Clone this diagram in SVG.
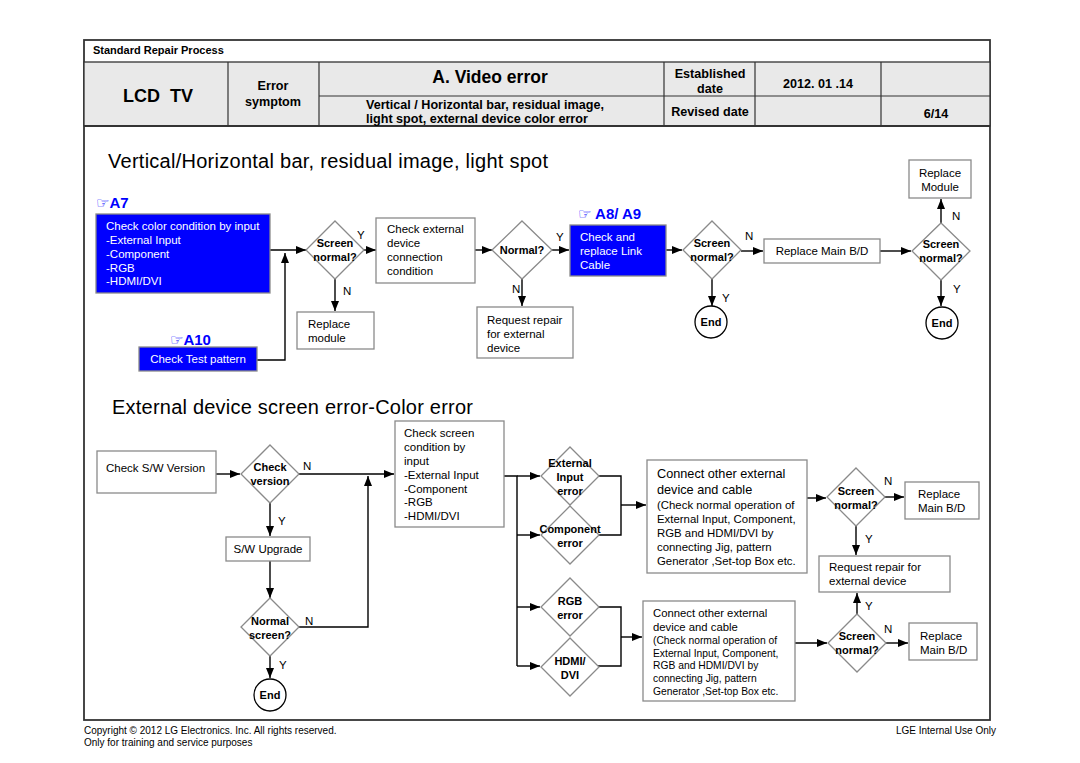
<svg xmlns="http://www.w3.org/2000/svg" width="1080" height="763" viewBox="0 0 1080 763">
<defs>
<marker id="ah" markerUnits="userSpaceOnUse" markerWidth="10" markerHeight="8" refX="10" refY="4" orient="auto">
<path d="M0,0 L10,4 L0,8 z" fill="#000"/>
</marker>
<style>
text{font-family:"Liberation Sans","DejaVu Sans",Arial,sans-serif;fill:#000}
.hd{font-weight:bold;font-size:12.6px}
.box{fill:#fff;stroke:#8a8a8a;stroke-width:1.3}
.blue{fill:#0000ff;stroke:#8a8a8a;stroke-width:1.3}
.dia{fill:#fff;stroke:#8a8a8a;stroke-width:1.3}
.end{fill:#fff;stroke:#000;stroke-width:1.3}
.t{font-size:11.5px}
.tw{font-size:11.5px;fill:#fff}
.tb{font-size:11px;font-weight:bold}
.lbl{font-size:11.5px}
.ref{font-size:15px;font-weight:bold;fill:#0000ff}
.con path{fill:none;stroke:#000;stroke-width:1.4}
.arr{marker-end:url(#ah)}
</style>
</defs>
<rect width="1080" height="763" fill="#fff"/>

<g id="header">
<rect x="84" y="40" width="906" height="680" fill="#fff" stroke="#333" stroke-width="1.8"/>
<rect x="84" y="62" width="906" height="64" fill="#e9e9e9" stroke="#333" stroke-width="1.3"/>
<line x1="84" y1="126" x2="990" y2="126" stroke="#333" stroke-width="2.2"/>
<line x1="228" y1="62" x2="228" y2="126" stroke="#333" stroke-width="1.2"/>
<line x1="319" y1="62" x2="319" y2="126" stroke="#333" stroke-width="1.2"/>
<line x1="664" y1="62" x2="664" y2="126" stroke="#333" stroke-width="1.2"/>
<line x1="755" y1="62" x2="755" y2="126" stroke="#333" stroke-width="1.2"/>
<line x1="881" y1="62" x2="881" y2="126" stroke="#333" stroke-width="1.2"/>
<line x1="319" y1="96" x2="990" y2="96" stroke="#333" stroke-width="1.2"/>
<text x="93" y="54" style="font-size:11px;font-weight:bold">Standard Repair Process</text>
<text x="158" y="102" text-anchor="middle" style="font-size:18px;font-weight:bold" xml:space="preserve">LCD  TV</text>
<text x="273" y="90" text-anchor="middle" class="hd">Error</text>
<text x="273" y="106" text-anchor="middle" class="hd">symptom</text>
<text x="490" y="83" text-anchor="middle" style="font-size:17.5px;font-weight:bold">A. Video error</text>
<text x="366" y="109" class="hd">Vertical / Horizontal bar, residual image,</text>
<text x="366" y="123" class="hd">light spot, external device color error</text>
<text x="710" y="78" text-anchor="middle" class="hd">Established</text>
<text x="710" y="93" text-anchor="middle" class="hd">date</text>
<text x="818" y="88" text-anchor="middle" class="hd">2012. 01 .14</text>
<text x="710" y="116" text-anchor="middle" class="hd">Revised date</text>
<text x="936" y="118" text-anchor="middle" class="hd">6/14</text>
</g>

<g id="titles">
<text x="108" y="168" style="font-size:20px" textLength="440">Vertical/Horizontal bar, residual image, light spot</text>
<text x="112" y="414" style="font-size:20px" textLength="361">External device screen error-Color error</text>
<text x="96" y="208" class="ref">☞A7</text>
<text x="170" y="345" class="ref">☞A10</text>
<text x="578" y="219" class="ref">☞ A8/ A9</text>
</g>

<g class="con" id="connectors">
<path class="arr" d="M270,250 H306"/>
<path class="arr" d="M257,360 H285 V253"/>
<path class="arr" d="M364,250 H376"/>
<path class="arr" d="M335,279 V311"/>
<path class="arr" d="M475,250 H492"/>
<path class="arr" d="M552,250 H569"/>
<path class="arr" d="M522,278 V306"/>
<path class="arr" d="M666,250 H682"/>
<path class="arr" d="M741,251 H763"/>
<path class="arr" d="M880,251 H911"/>
<path class="arr" d="M941,223 V199"/>
<path class="arr" d="M941,280 V306"/>
<path class="arr" d="M712,279 V306"/>
<path class="arr" d="M216,474 H240"/>
<path class="arr" d="M299,474 H394"/>
<path class="arr" d="M270,503 V536"/>
<path class="arr" d="M270,561 V598"/>
<path class="arr" d="M299,627 H368 V476"/>
<path class="arr" d="M270,656 V678"/>
<path d="M504,476 H517 V666"/>
<path class="arr" d="M517,476 H540"/>
<path class="arr" d="M517,535 H540"/>
<path class="arr" d="M517,607 H540"/>
<path class="arr" d="M517,666 H540"/>
<path d="M598,476 H621 V535 H598"/>
<path class="arr" d="M621,505 H646"/>
<path d="M598,607 H621 V666 H598"/>
<path class="arr" d="M621,637 H642"/>
<path class="arr" d="M807,498 H826"/>
<path class="arr" d="M884,497 H904"/>
<path class="arr" d="M856,526 V555"/>
<path class="arr" d="M857,614 V593"/>
<path class="arr" d="M886,643 H908"/>
<path class="arr" d="M794,643 H827"/>
</g>

<g id="labels">
<text x="357" y="239" class="lbl">Y</text>
<text x="343" y="295" class="lbl">N</text>
<text x="556" y="241" class="lbl">Y</text>
<text x="512" y="293" class="lbl">N</text>
<text x="745" y="240" class="lbl">N</text>
<text x="722" y="302" class="lbl">Y</text>
<text x="952" y="220" class="lbl">N</text>
<text x="953" y="293" class="lbl">Y</text>
<text x="303" y="470" class="lbl">N</text>
<text x="278" y="525" class="lbl">Y</text>
<text x="305" y="625" class="lbl">N</text>
<text x="279" y="669" class="lbl">Y</text>
<text x="884" y="485" class="lbl">N</text>
<text x="865" y="543" class="lbl">Y</text>
<text x="865" y="610" class="lbl">Y</text>
<text x="884" y="633" class="lbl">N</text>
</g>

<g id="n_a7">
<rect class="blue" x="96" y="214" width="174" height="79"/>
<text x="106" y="230" class="tw">Check color condition by input</text>
<text x="106" y="244" class="tw">-External Input</text>
<text x="106" y="258" class="tw">-Component</text>
<text x="106" y="272" class="tw">-RGB</text>
<text x="106" y="285" class="tw">-HDMI/DVI</text>
</g>
<g id="n_a10">
<rect class="blue" x="139" y="347" width="118" height="24"/>
<text x="198" y="363" text-anchor="middle" class="tw">Check Test pattern</text>
</g>
<g id="n_d1">
<polygon class="dia" points="335,221 364,250 335,279 306,250"/>
<text x="335" y="247" text-anchor="middle" class="tb">Screen</text>
<text x="335" y="261" text-anchor="middle" class="tb">normal?</text>
</g>
<g id="n_ext">
<rect class="box" x="376" y="218" width="99" height="65"/>
<text x="387" y="233" class="t">Check external</text>
<text x="387" y="247" class="t">device</text>
<text x="387" y="261" class="t">connection</text>
<text x="387" y="275" class="t">condition</text>
</g>
<g id="n_repmod">
<rect class="box" x="297" y="312" width="77" height="37"/>
<text x="308" y="328" class="t">Replace</text>
<text x="308" y="342" class="t">module</text>
</g>
<g id="n_normal">
<polygon class="dia" points="522,221 552,250 522,279 492,250"/>
<text x="522" y="254" text-anchor="middle" class="tb">Normal?</text>
</g>
<g id="n_link">
<rect class="blue" x="570" y="225" width="96" height="51"/>
<text x="580" y="241" class="tw">Check and</text>
<text x="580" y="255" class="tw">replace Link</text>
<text x="580" y="269" class="tw">Cable</text>
</g>
<g id="n_req1">
<rect class="box" x="477" y="307" width="96" height="51"/>
<text x="487" y="324" class="t">Request repair</text>
<text x="487" y="338" class="t">for external</text>
<text x="487" y="352" class="t">device</text>
</g>
<g id="n_d2">
<polygon class="dia" points="712,221 741,250 712,279 683,250"/>
<text x="712" y="247" text-anchor="middle" class="tb">Screen</text>
<text x="712" y="261" text-anchor="middle" class="tb">normal?</text>
</g>
<g id="n_main1">
<rect class="box" x="764" y="239" width="116" height="24"/>
<text x="822" y="255" text-anchor="middle" class="t">Replace Main B/D</text>
</g>
<g id="n_d3">
<polygon class="dia" points="941,223 970,251 941,280 912,251"/>
<text x="941" y="248" text-anchor="middle" class="tb">Screen</text>
<text x="941" y="262" text-anchor="middle" class="tb">normal?</text>
</g>
<g id="n_repModule">
<rect class="box" x="909" y="160" width="62" height="38"/>
<text x="940" y="177" text-anchor="middle" class="t">Replace</text>
<text x="940" y="191" text-anchor="middle" class="t">Module</text>
</g>
<g id="n_end1">
<circle class="end" cx="711" cy="322" r="16"/>
<text x="711" y="326" text-anchor="middle" class="tb">End</text>
</g>
<g id="n_end2">
<circle class="end" cx="942" cy="323" r="16"/>
<text x="942" y="327" text-anchor="middle" class="tb">End</text>
</g>

<g id="n_swver">
<rect class="box" x="97" y="451" width="119" height="42"/>
<text x="106" y="472" class="t">Check S/W Version</text>
</g>
<g id="n_chkver">
<polygon class="dia" points="270,445 299,474 270,503 241,474"/>
<text x="270" y="471" text-anchor="middle" class="tb">Check</text>
<text x="270" y="485" text-anchor="middle" class="tb">version</text>
</g>
<g id="n_swup">
<rect class="box" x="226" y="537" width="84" height="24"/>
<text x="268" y="553" text-anchor="middle" class="t">S/W Upgrade</text>
</g>
<g id="n_normscr">
<polygon class="dia" points="270,598 299,627 270,656 241,627"/>
<text x="270" y="625" text-anchor="middle" class="tb">Normal</text>
<text x="270" y="639" text-anchor="middle" class="tb">screen?</text>
</g>
<g id="n_end3">
<circle class="end" cx="270" cy="695" r="16"/>
<text x="270" y="699" text-anchor="middle" class="tb">End</text>
</g>
<g id="n_chkscr">
<rect class="box" x="395" y="421" width="109" height="106"/>
<text x="404" y="437" class="t">Check screen</text>
<text x="404" y="451" class="t">condition by</text>
<text x="404" y="465" class="t">input</text>
<text x="404" y="479" class="t">-External Input</text>
<text x="404" y="493" class="t">-Component</text>
<text x="404" y="506" class="t">-RGB</text>
<text x="404" y="520" class="t">-HDMI/DVI</text>
</g>
<g id="n_extin">
<polygon class="dia" points="570,447 599,476 570,505 541,476"/>
<text x="570" y="467" text-anchor="middle" class="tb">External</text>
<text x="570" y="481" text-anchor="middle" class="tb">Input</text>
<text x="570" y="495" text-anchor="middle" class="tb">error</text>
</g>
<g id="n_comp">
<polygon class="dia" points="570,506 599,535 570,564 541,535"/>
<text x="570" y="533" text-anchor="middle" class="tb">Component</text>
<text x="570" y="547" text-anchor="middle" class="tb">error</text>
</g>
<g id="n_rgb">
<polygon class="dia" points="570,578 599,607 570,636 541,607"/>
<text x="570" y="605" text-anchor="middle" class="tb">RGB</text>
<text x="570" y="619" text-anchor="middle" class="tb">error</text>
</g>
<g id="n_hdmi">
<polygon class="dia" points="570,638 599,667 570,696 541,667"/>
<text x="570" y="665" text-anchor="middle" class="tb">HDMI/</text>
<text x="570" y="679" text-anchor="middle" class="tb">DVI</text>
</g>
<g id="n_conn1">
<rect class="box" x="647" y="460" width="160" height="113"/>
<text x="657" y="478" style="font-size:12.7px">Connect other external</text>
<text x="657" y="494" style="font-size:12.7px">device and cable</text>
<text x="657" y="509" style="font-size:11.4px">(Check normal operation of</text>
<text x="657" y="523" style="font-size:11.4px">External Input, Component,</text>
<text x="657" y="537" style="font-size:11.4px">RGB and HDMI/DVI by</text>
<text x="657" y="551" style="font-size:11.4px">connecting Jig, pattern</text>
<text x="657" y="565" style="font-size:11.4px">Generator ,Set-top Box etc.</text>
</g>
<g id="n_conn2">
<rect class="box" x="643" y="601" width="152" height="100"/>
<text x="653" y="617" style="font-size:11.3px">Connect other external</text>
<text x="653" y="631" style="font-size:11.3px">device and cable</text>
<text x="653" y="644" style="font-size:10.3px">(Check normal operation of</text>
<text x="653" y="657" style="font-size:10.3px">External Input, Component,</text>
<text x="653" y="669" style="font-size:10.3px">RGB and HDMI/DVI by</text>
<text x="653" y="682" style="font-size:10.3px">connecting Jig, pattern</text>
<text x="653" y="695" style="font-size:10.3px">Generator ,Set-top Box etc.</text>
</g>
<g id="n_d4">
<polygon class="dia" points="856,468 885,497 856,526 827,497"/>
<text x="856" y="495" text-anchor="middle" class="tb">Screen</text>
<text x="856" y="509" text-anchor="middle" class="tb">normal?</text>
</g>
<g id="n_main2">
<rect class="box" x="905" y="482" width="74" height="37"/>
<text x="918" y="498" class="t">Replace</text>
<text x="918" y="512" class="t">Main B/D</text>
</g>
<g id="n_req2">
<rect class="box" x="819" y="556" width="131" height="36"/>
<text x="829" y="571" class="t">Request repair for</text>
<text x="829" y="585" class="t">external device</text>
</g>
<g id="n_d5">
<polygon class="dia" points="857,614 886,643 857,672 828,643"/>
<text x="857" y="640" text-anchor="middle" class="tb">Screen</text>
<text x="857" y="654" text-anchor="middle" class="tb">normal?</text>
</g>
<g id="n_main3">
<rect class="box" x="909" y="623" width="68" height="37"/>
<text x="920" y="640" class="t">Replace</text>
<text x="920" y="654" class="t">Main B/D</text>
</g>

<g id="footer">
<text x="84" y="734" style="font-size:10px">Copyright © 2012 LG Electronics. Inc. All rights reserved.</text>
<text x="84" y="746" style="font-size:10px">Only for training and service purposes</text>
<text x="996" y="734" text-anchor="end" style="font-size:10px">LGE Internal Use Only</text>
</g>
</svg>
